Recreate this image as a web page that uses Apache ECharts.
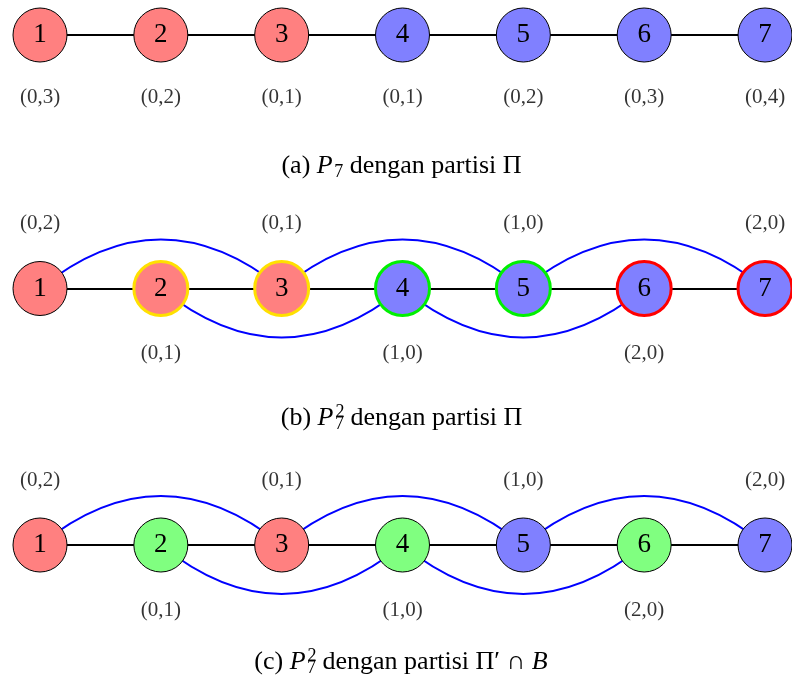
<!DOCTYPE html>
<html><head><meta charset="utf-8">
<script src="https://cdn.jsdelivr.net/npm/echarts@6/dist/echarts.min.js"></script>
<style>html,body{margin:0;padding:0;background:#fff}#c{width:792px;height:698px}</style>
</head><body><div id="c"></div>
<script>
// ---- data ----
const vertices = ['1','2','3','4','5','6','7'];
const pathEdges = [[1,2],[2,3],[3,4],[4,5],[5,6],[6,7]];
const upperSquareEdges = [[1,3],[3,5],[5,7]];
const lowerSquareEdges = [[2,4],[4,6]];
const classA = ['R','R','R','B','B','B','B'];
const repA = ['(0,3)','(0,2)','(0,1)','(0,1)','(0,2)','(0,3)','(0,4)'];
const classB = ['R','R','R','B','B','B','B'];
const ringB = ['','Y','Y','G','G','R','R'];
const repB = ['(0,2)','(0,1)','(0,1)','(1,0)','(1,0)','(2,0)','(2,0)'];
const classC = ['R','G','R','G','B','G','B'];
const repC = ['(0,2)','(0,1)','(0,1)','(1,0)','(1,0)','(2,0)','(2,0)'];
const captionA = [['(a) ','n'],['P','i'],['7','sub'],[' dengan partisi \u03A0','n']];
const captionB = [['(b) ','n'],['P','i'],[['2','7'],'ss'],[' dengan partisi \u03A0','n']];
const captionC = [['(c) ','n'],['P','i'],[['2','7'],'ss'],[' dengan partisi \u03A0\u2032 \u2229 ','n'],['B','i']];

// ---- styles / layout ----
const FILL = {R:'#FF8080', B:'#8080FF', G:'#80FF80'};
const RING = {Y:'#FFE000', G:'#00F000', R:'#FF0000'};
const rowCenters = [35, 288.5, 545];
const SERIF = '"Liberation Serif", "Times New Roman", serif';

function graphSeries(idx, classes, rings, square) {
  const links = pathEdges.map(e => ({source:String(e[0]), target:String(e[1]), lineStyle:{color:'#000', width:2, curveness:0, opacity:1}}));
  if (square) {
    upperSquareEdges.forEach(e => links.push({source:String(e[0]), target:String(e[1]), lineStyle:{color:'#0000FF', width:2, curveness:0.405, opacity:1}}));
    lowerSquareEdges.forEach(e => links.push({source:String(e[0]), target:String(e[1]), lineStyle:{color:'#0000FF', width:2, curveness:-0.405, opacity:1}}));
  }
  return {
    type:'graph', coordinateSystem:'cartesian2d', xAxisIndex:idx, yAxisIndex:idx,
    symbol:'circle', symbolSize:54, z:3, silent:true, animation:false, autoCurveness:false,
    label:{show:true, position:'inside', formatter:'{b}', fontFamily:SERIF, fontSize:27, color:'#000'},
    lineStyle:{opacity:1},
    data: vertices.map((v,i) => {
      const r = rings && rings[i];
      return {name:v, value:[Number(v),0],
        itemStyle:{color:FILL[classes[i]], borderColor: r ? RING[r] : '#000', borderWidth: r ? 3 : 1, opacity:1}};
    }),
    links: links,
    emphasis:{disabled:true}
  };
}
function labelSeries(idx, reps, alternate) {
  return {
    type:'scatter', xAxisIndex:idx, yAxisIndex:idx, symbolSize:1, clip:false, silent:true, z:4,
    itemStyle:{color:'rgba(0,0,0,0)'},
    label:{show:true, position:'inside', formatter:'{b}', fontFamily:SERIF, fontSize:21, color:'#000'},
    data: vertices.map((v,i) => ({name:reps[i], value:[Number(v),0],
      label:{offset:[0, alternate ? (i % 2 === 0 ? -65 : 65) : 62]}})),
    emphasis:{disabled:true}
  };
}

const ctx = document.createElement('canvas').getContext('2d');
function fontOf(kind){
  if (kind === 'i') return 'italic 26px ' + SERIF;
  if (kind === 'sub' || kind === 'ss') return '18px ' + SERIF;
  return '26px ' + SERIF;
}
function w(t, f){ ctx.font = f; return ctx.measureText(t).width; }
function caption(pieces, baseline, cx) {
  let total = 0;
  const widths = pieces.map((p, k) => {
    let ww;
    if (p[1] === 'ss') ww = Math.max(w(p[0][0], fontOf('ss')), w(p[0][1], fontOf('ss')));
    else ww = w(p[0], fontOf(p[1]));
    if (p[1] === 'i' && k < pieces.length-1) ww += 1.5;
    return ww;
  });
  widths.forEach(x => total += x);
  let x = cx - total/2;
  const els = [];
  const mid = baseline - 7.8;
  const smid = 5.4;
  pieces.forEach((p,i) => {
    if (p[1] === 'ss') {
      els.push({type:'text', x:x+0.5, y:baseline-8-smid, style:{text:p[0][0], font:fontOf('ss'), fill:'#000', verticalAlign:'middle', align:'left'}});
      els.push({type:'text', x:x, y:baseline+4-smid, style:{text:p[0][1], font:fontOf('ss'), fill:'#000', verticalAlign:'middle', align:'left'}});
    } else if (p[1] === 'sub') {
      els.push({type:'text', x:x, y:baseline+4-smid, style:{text:p[0], font:fontOf('sub'), fill:'#000', verticalAlign:'middle', align:'left'}});
    } else {
      els.push({type:'text', x:x, y:mid, style:{text:p[0], font:fontOf(p[1]), fill:'#000', verticalAlign:'middle', align:'left'}});
    }
    x += widths[i];
  });
  return els;
}

const grids = rowCenters.map(c => ({left:40, right:27, top:c-10, height:20, show:false}));
const option = {
  animation:false,
  backgroundColor:'#fff',
  grid: grids,
  xAxis: rowCenters.map((c,i) => ({type:'value', gridIndex:i, min:1, max:7, show:false})),
  yAxis: rowCenters.map((c,i) => ({type:'value', gridIndex:i, min:-1, max:1, show:false})),
  series: [
    graphSeries(0, classA, null, false),
    labelSeries(0, repA, false),
    graphSeries(1, classB, ringB, true),
    labelSeries(1, repB, true),
    graphSeries(2, classC, null, true),
    labelSeries(2, repC, true)
  ],
  graphic: [].concat(caption(captionA, 174, 401.5), caption(captionB, 426, 401.5), caption(captionC, 670, 401))
};
const chart = echarts.init(document.getElementById('c'), null, {renderer:'canvas'});
chart.setOption(option);
</script></body></html>
